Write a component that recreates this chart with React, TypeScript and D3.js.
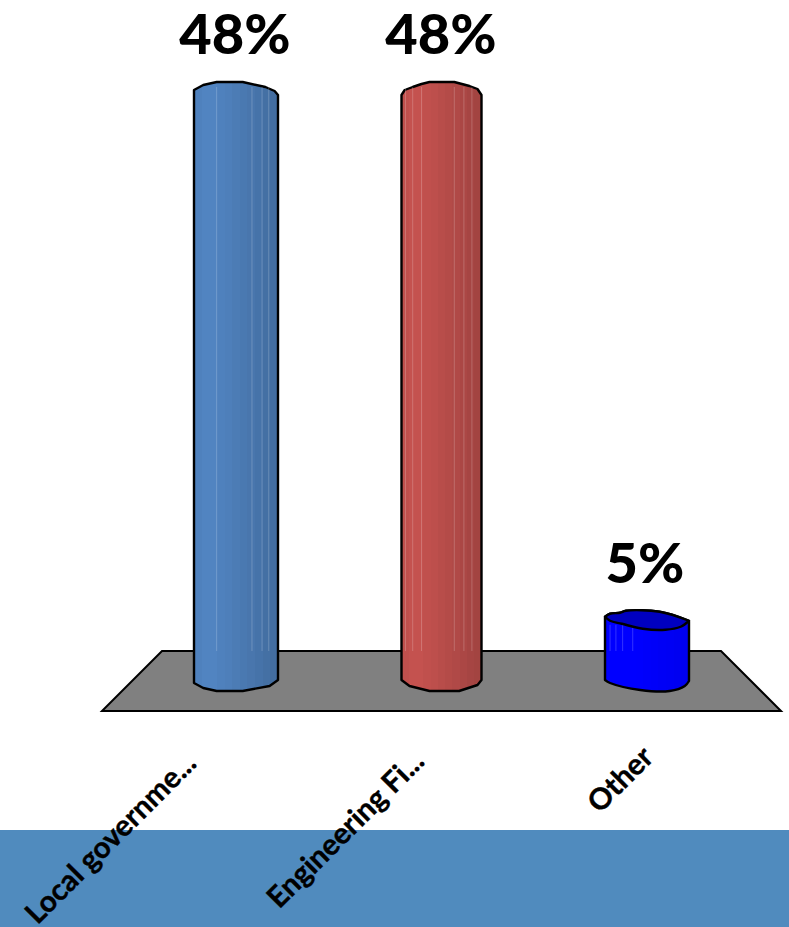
import React from "react";
import * as d3 from "d3";

const categories = ["Local governme...", "Engineering Fi...", "Other"];
const values = [48, 48, 5];
const valueLabels = ["48%", "48%", "5%"];
const bodyColors = ["#4f81bd", "#c0504d", "#0000ff"];
const capColor = "#0000c0";

const W = 789;
const H = 927;

type Pt = [number, number];

// Cylinder silhouettes: [fraction of width, px offset from the side edge]
const rimBottoms: Pt[][] = [
  [[0, 3], [0.11, 8], [0.27, 11], [0.58, 11], [0.9, 6], [1, 0]],
  [[0, 0], [0.1, 6], [0.35, 11], [0.72, 11], [0.95, 5], [1, 0]],
  [[0, 0], [0.06, 3], [0.42, 10], [0.77, 11], [0.95, 6], [1, 1]],
];
const rimTops: Pt[][] = [
  [[1, 3], [0.96, -1], [0.85, -5], [0.58, -10], [0.27, -10], [0.11, -7], [0, -2]],
  [[1, 3], [0.95, -3], [0.85, -6], [0.66, -10], [0.35, -10], [0.25, -8], [0.14, -5], [0.04, -2], [0, 3]],
  [[1, 2], [0.65, -7], [0.25, -8], [0.18, -6], [0.06, -5], [0, -2]],
];
const facets = [
  [0.27, 0.69, 0.81, 0.89],
  [0.05, 0.14, 0.25, 0.66, 0.78, 0.88],
  [0.06, 0.13, 0.21, 0.33],
];
// Brightness shift across the stepped facets of each cylinder
const bandShifts = [0, 0.06, 0.06, 0, -0.04, -0.12, -0.18, -0.24, -0.32, -0.4, -0.46];

const y = d3.scaleLinear().domain([0, 48]).range([680, 92]);
const x = d3.scalePoint<number>().domain([0, 1, 2]).range([236, 647]);
const line = d3.line();
const smooth = d3.line().curve(d3.curveCatmullRom.alpha(0.5));

function Cylinder({ i }: { i: number }) {
  const cx = x(i) as number;
  const w = i === 1 ? 80 : 84;
  const left = cx - w / 2;
  const top = y(values[i]);
  const base = y(0);
  const px = (f: number) => left + f * w;
  const isShort = values[i] < 10;
  const bottomPts = rimBottoms[i].map(([f, d]) => [px(f), base + d] as Pt);
  const topPts = rimTops[i].map(([f, d]) => [px(f), top + d] as Pt);
  const outline = isShort
    ? `${smooth(bottomPts)}L${smooth(topPts)!.slice(1)}Z`
    : `${line([...bottomPts, ...topPts])}Z`;
  const capFront: Pt[] = [[0, -2], [0.06, 2], [0.2, 5], [0.45, 10], [0.72, 11], [0.9, 8], [1, 2]];
  const capFrontPts = capFront.map(([f, d]) => [px(f), top + d] as Pt);
  const capPath = `${smooth(capFrontPts)}L${smooth(topPts)!.slice(1)}Z`;
  return (
    <g>
      <path d={outline} fill={`url(#body${i})`} stroke="#000" strokeWidth={2.4} strokeLinejoin="round" />
      {facets[i].map((f) => (
        <line
          key={f}
          x1={px(f)}
          x2={px(f)}
          y1={top + (isShort ? 6 : -5)}
          y2={651}
          stroke="#fff"
          strokeOpacity={0.2}
          strokeWidth={1}
        />
      ))}
      {isShort && <path d={capPath} fill={capColor} stroke="#000" strokeWidth={2.4} strokeLinejoin="round" />}
    </g>
  );
}

export default function App() {
  const labelAnchors = [
    [198, 765],
    [426, 763],
    [655, 759],
  ];
  const valueX = [235, 441, 645];
  return (
    <svg
      width={W}
      height={H}
      style={{ position: "absolute", left: 0, top: 0, background: "#fff" }}
      fontFamily="Lato, Carlito, sans-serif"
    >
      <defs>
        {bodyColors.map((c, i) => {
          const col = d3.color(c)!;
          const n = bandShifts.length;
          return (
            <linearGradient key={i} id={`body${i}`} x1="0" x2="1" y1="0" y2="0">
              {bandShifts.flatMap((s, k) => {
                const hex = (i === 2 ? col.darker(Math.max(0, -s) * 0.4) : col.brighter(s)).formatHex();
                return [
                  <stop key={`${k}a`} offset={k / n} stopColor={hex} />,
                  <stop key={`${k}b`} offset={(k + 1) / n} stopColor={hex} />,
                ];
              })}
            </linearGradient>
          );
        })}
      </defs>
      <rect x={0} y={830} width={W} height={97} fill="#508bbe" />
      <path
        d={line([[162, 651], [721, 651], [781, 711], [102, 711]]) + "Z"}
        fill="#808080"
        stroke="#000"
        strokeWidth={2}
      />
      {values.map((_, i) => (
        <Cylinder key={i} i={i} />
      ))}
      {values.map((v, i) => (
        <text
          key={i}
          x={valueX[i]}
          y={i === 2 ? y(v) - 36 : y(v) - 38}
          textAnchor="middle"
          fontSize={56}
          fontWeight={900}
          fill="#000"
        >
          {valueLabels[i]}
        </text>
      ))}
      {categories.map((c, i) => (
        <text
          key={c}
          transform={`translate(${labelAnchors[i][0]},${labelAnchors[i][1]}) rotate(-45)`}
          textAnchor="end"
          fontSize={29.5}
          fontWeight={700}
          fill="#000"
          stroke="#000"
          strokeWidth={0.4}
        >
          {c}
        </text>
      ))}
    </svg>
  );
}
